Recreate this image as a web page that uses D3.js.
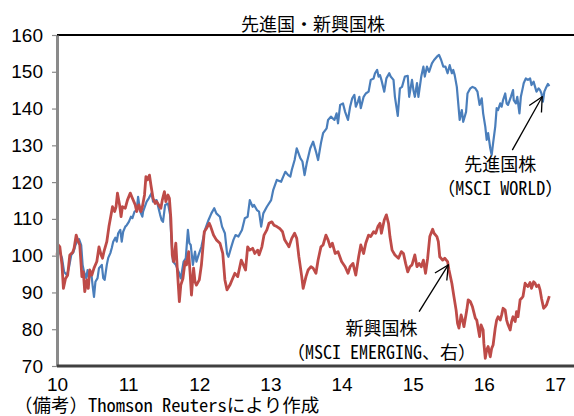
<!DOCTYPE html>
<html><head><meta charset="utf-8">
<script src="https://cdn.jsdelivr.net/npm/d3@7"></script>
<style>body{margin:0;background:#fff;} svg{display:block;}</style>
</head><body>
<svg id="chart" width="574" height="416"></svg>
<script>
const titleText = "先進国・新興国株";
const footText = "（備考）Thomson Reutersにより作成";
const yTicks = [70, 80, 90, 100, 110, 120, 130, 140, 150, 160];
const xTicks = [10, 11, 12, 13, 14, 15, 16, 17];
const xTickLabels = ["10", "11", "12", "13", "14", "15", "16", "17"];

// 先進国株 (MSCI WORLD) — time in years ('10 = 2010)
const worldT = [10.00,10.03,10.07,10.10,10.14,10.17,10.20,10.23,10.26,10.29,10.31,10.34,10.36,10.38,10.41,10.43,10.45,10.48,10.50,10.52,10.54,10.57,10.59,10.63,10.65,10.67,10.70,10.72,10.75,10.77,10.79,10.82,10.84,10.86,10.89,10.91,10.93,10.96,10.98,
11.01,11.04,11.06,11.09,11.12,11.14,11.17,11.20,11.21,11.26,11.29,11.33,11.35,11.40,11.45,11.47,11.49,11.52,11.56,11.59,11.61,11.63,11.67,11.71,11.74,11.78,11.81,11.84,11.86,11.88,11.91,11.94,11.96,11.99,
12.03,12.08,12.13,12.17,12.21,12.24,12.29,12.32,12.36,12.39,12.41,12.45,12.48,12.51,12.55,12.60,12.64,12.68,12.71,12.75,12.77,12.81,12.84,12.87,12.90,12.95,
13.01,13.04,13.09,13.15,13.18,13.21,13.25,13.28,13.30,13.34,13.37,13.42,13.45,13.48,13.51,13.56,13.60,13.64,13.67,13.71,13.74,13.79,13.81,13.85,13.90,13.93,13.95,13.98,
14.02,14.05,14.09,14.12,14.15,14.18,14.20,14.23,14.25,14.27,14.31,14.34,14.38,14.41,14.45,14.47,14.50,14.52,14.54,14.56,14.60,14.63,14.67,14.69,14.73,14.75,14.79,14.82,14.85,14.89,14.93,14.95,14.99,
15.01,15.03,15.06,15.08,15.12,15.15,15.17,15.20,15.23,15.27,15.30,15.34,15.37,15.40,15.43,15.46,15.49,15.52,15.55,15.57,15.59,15.62,15.64,15.66,15.69,15.71,15.75,15.77,15.81,15.84,15.88,15.91,15.94,15.97,15.99,
16.02,16.04,16.06,16.09,16.11,16.13,16.16,16.18,16.20,16.23,16.25,16.27,16.30,16.32,16.34,16.38,16.41,16.42,16.45,16.47,16.50,16.52,16.55,16.56,16.59,16.62,16.65,16.67,16.70,16.72,16.74,16.77,16.79,16.81,16.83,16.85,16.87,16.90,16.92];
const worldV = [100.7,101.3,99.4,95.6,94.7,97.0,100.2,100.9,102.9,104.3,104.5,102.9,97.5,95.6,93.9,96.1,93.9,95.6,92.0,88.8,92.9,93.9,96.6,97.5,93.9,93.4,97.5,99.4,100.7,102.1,103.8,104.9,103.8,106.1,107.0,103.8,106.5,107.9,108.3,
109.2,110.6,110.2,112.0,112.4,116.0,112.0,110.6,112.0,114.7,115.6,117.0,114.7,115.1,111.1,109.7,109.2,113.8,114.2,111.1,103.8,98.4,97.5,95.6,93.8,98.4,99.3,107.0,103.4,102.9,97.5,101.1,98.4,100.2,
102.4,107.0,109.7,111.5,112.9,111.5,110.6,107.9,106.1,100.6,99.7,102.4,104.3,105.6,105.2,107.0,110.2,110.6,115.1,113.3,113.8,112.4,112.0,107.9,111.5,113.3,
115.1,117.9,120.6,120.1,121.5,122.8,121.9,121.5,123.3,126.0,129.2,126.5,125.6,121.9,125.1,129.2,131.0,128.3,126.0,130.6,133.3,134.6,136.9,137.8,136.9,138.7,136.0,141.0,
141.4,139.1,136.9,140.5,142.8,143.7,140.5,141.9,143.2,140.1,143.2,144.1,144.6,147.8,148.2,149.6,150.5,148.7,149.1,147.8,144.6,148.2,149.6,148.7,147.8,143.2,138.0,145.5,145.9,148.7,148.9,143.2,147.8,
145.0,143.2,146.9,143.2,148.7,151.4,148.7,151.4,150.0,152.3,153.2,154.1,154.6,153.2,151.4,151.4,149.6,151.8,149.6,150.5,149.1,145.9,141.4,136.9,139.6,136.4,139.1,144.1,145.5,145.9,145.5,144.6,141.0,142.8,138.7,
135.1,131.5,133.3,129.2,127.4,130.6,135.1,140.1,139.6,141.4,140.5,142.3,144.1,141.4,141.0,143.2,145.0,142.3,141.4,143.2,138.7,143.2,145.9,146.9,148.2,147.8,148.2,146.4,147.3,145.9,144.6,145.5,145.0,144.1,141.9,144.6,145.5,146.7,146.1];

// 新興国株 (MSCI EMERGING)
const emergT = [10.00,10.02,10.04,10.07,10.09,10.12,10.15,10.18,10.22,10.24,10.27,10.29,10.32,10.35,10.37,10.39,10.42,10.44,10.46,10.49,10.52,10.56,10.59,10.62,10.64,10.66,10.70,10.73,10.76,10.78,10.81,10.83,10.85,10.88,10.90,10.92,10.96,10.99,
11.03,11.06,11.10,11.12,11.15,11.18,11.20,11.23,11.25,11.27,11.30,11.32,11.35,11.38,11.40,11.43,11.46,11.48,11.51,11.53,11.56,11.58,11.60,11.62,11.64,11.67,11.69,11.72,11.74,11.77,11.80,11.82,11.85,11.87,11.89,11.92,11.94,11.96,
12.00,12.03,12.07,12.10,12.14,12.16,12.20,12.24,12.29,12.33,12.36,12.39,12.43,12.46,12.50,12.54,12.59,12.62,12.65,12.68,12.71,12.75,12.78,12.82,12.84,12.88,12.91,12.95,12.98,
13.02,13.05,13.09,13.13,13.17,13.20,13.23,13.26,13.30,13.34,13.37,13.40,13.44,13.46,13.50,13.53,13.57,13.60,13.64,13.67,13.71,13.74,13.78,13.81,13.84,13.87,13.91,13.95,
14.00,14.05,14.09,14.12,14.16,14.20,14.24,14.27,14.31,14.34,14.38,14.41,14.45,14.48,14.51,14.54,14.56,14.60,14.63,14.66,14.68,14.71,14.75,14.80,14.84,14.87,14.90,14.93,14.96,14.99,
15.03,15.06,15.09,15.12,15.15,15.18,15.21,15.24,15.28,15.30,15.34,15.36,15.38,15.42,15.45,15.49,15.51,15.55,15.58,15.61,15.63,15.65,15.68,15.70,15.72,15.76,15.78,15.81,15.84,15.88,15.90,15.94,15.96,15.99,
16.00,16.02,16.04,16.06,16.09,16.11,16.13,16.16,16.18,16.20,16.23,16.25,16.27,16.30,16.32,16.34,16.37,16.39,16.41,16.44,16.46,16.48,16.51,16.53,16.55,16.58,16.60,16.62,16.65,16.67,16.70,16.72,16.74,16.77,16.79,16.81,16.84,16.86,16.88,16.91,16.92];
const emergV = [100.2,102.9,102.4,97.5,91.1,93.8,94.7,100.2,100.9,102.0,105.6,104.3,102.9,94.3,95.6,90.2,93.4,91.1,96.1,94.7,96.6,98.4,102.4,100.2,99.3,101.1,103.8,107.9,111.1,113.3,112.0,113.3,117.0,113.8,110.6,113.3,112.9,115.1,
117.0,115.6,113.8,112.0,113.8,112.0,113.3,116.5,121.5,120.6,121.9,119.2,115.6,114.2,114.7,113.8,112.9,115.1,117.4,114.7,116.5,115.6,110.2,100.2,98.4,103.4,96.6,87.5,92.0,93.8,98.4,97.5,101.1,95.6,89.3,96.6,92.9,92.0,
93.4,97.5,106.5,107.4,108.8,107.9,105.6,104.3,103.4,100.6,93.4,90.7,92.0,93.4,95.2,94.3,98.8,97.5,96.1,102.4,101.5,102.0,100.6,101.5,100.2,102.4,105.6,107.0,108.8,
109.2,108.3,107.9,107.4,106.5,104.3,103.4,102.4,104.7,106.1,104.7,99.7,94.3,91.1,94.3,96.1,97.0,96.6,95.2,98.8,102.4,102.9,105.6,104.3,102.4,103.4,100.6,101.1,
98.4,97.0,95.2,97.0,97.9,94.7,99.7,102.9,100.6,103.4,105.6,105.2,106.5,106.1,107.9,108.8,106.1,109.7,111.1,108.8,105.2,101.5,100.2,99.3,101.1,100.6,97.9,95.6,97.0,97.5,
100.2,97.0,97.9,97.0,98.8,95.2,99.3,105.2,107.2,106.1,105.2,103.8,99.7,98.8,99.3,98.4,96.1,92.5,88.8,85.2,81.6,80.3,83.9,82.5,80.7,85.2,88.0,87.5,86.1,83.0,82.5,78.0,81.2,79.8,
76.2,72.1,74.4,75.3,72.5,74.8,75.7,80.3,82.5,83.4,82.5,83.9,85.7,85.2,82.5,81.2,79.8,82.1,83.4,82.1,84.8,83.4,88.0,88.4,88.9,92.5,92.0,91.6,92.7,91.1,92.9,92.5,91.6,92.0,90.7,88.4,85.7,86.1,86.6,88.4,89.0];

// annotation anchors (data coordinates)
const worldArrow = {from: [16.40, 128.7], to: [16.82, 143.2]};
const emergArrow = {from: [15.09, 84.8], to: [15.50, 97.5]};
const worldLabel = {at: [16.23, 123.0], lines: ["先進国株", "（MSCI WORLD）"]};
const emergLabel = {at: [14.56, 78.4], lines: ["新興国株", "（MSCI EMERGING、右）"]};

const W = 574, H = 416;
const jp = '"Noto Sans Mono CJK JP","Noto Sans CJK JP",sans-serif';
const num = '"Liberation Sans",Arial,sans-serif';

const svg = d3.select("#chart");
const x = d3.scaleLinear().domain([10, 17]).range([57, 555]);
const y = d3.scaleLinear().domain([70, 160]).range([366, 35]);

// frame: top line
svg.append("line").attr("x1", 57).attr("x2", W).attr("y1", y(160)).attr("y2", y(160))
  .attr("stroke", "#000").attr("stroke-width", 2);

// series
const line = d3.line().x(d => x(d[0])).y(d => y(d[1]));
const world = worldT.map((t, i) => [t, worldV[i]]);
const emerg = emergT.map((t, i) => [t, emergV[i]]);
svg.append("path").datum(world).attr("d", line).attr("fill", "none")
  .attr("stroke", "#4a7ebb").attr("stroke-width", 2.2).attr("stroke-linejoin", "round");
svg.append("path").datum(emerg).attr("d", line).attr("fill", "none")
  .attr("stroke", "#be4b48").attr("stroke-width", 2.8).attr("stroke-linejoin", "round");

// y axis
const yAxis = svg.append("g").attr("transform", `translate(${x(10)},0)`)
  .call(d3.axisLeft(y).tickValues(yTicks).tickSize(5).tickPadding(9).tickSizeOuter(0));
yAxis.select(".domain").attr("stroke", "#8a8a8a").attr("stroke-width", 3);
yAxis.selectAll(".tick line").attr("stroke", "#8a8a8a").attr("stroke-width", 1.2);
yAxis.selectAll(".tick text").attr("font-family", num).attr("font-size", 19).attr("fill", "#000");

// x axis (bottom)
const xAxis = svg.append("g").attr("transform", `translate(0,${y(70)})`)
  .call(d3.axisBottom(x).tickValues(xTicks).tickSize(0).tickPadding(12)
    .tickFormat((d, i) => xTickLabels[i]));
xAxis.select(".domain").remove();
xAxis.selectAll(".tick text").attr("font-family", num).attr("font-size", 19).attr("fill", "#000");
svg.append("line").attr("x1", 57).attr("x2", W).attr("y1", y(70)).attr("y2", y(70))
  .attr("stroke", "#404040").attr("stroke-width", 3);

// title
svg.append("text").attr("x", 313).attr("y", 31).attr("text-anchor", "middle")
  .attr("font-family", jp).attr("font-size", 18).text(titleText);

// arrows
const defs = svg.append("defs");
defs.append("marker").attr("id", "arr").attr("markerUnits", "userSpaceOnUse")
  .attr("viewBox", "0 0 16 16").attr("markerWidth", 16).attr("markerHeight", 16)
  .attr("refX", 15).attr("refY", 8).attr("orient", "auto")
  .append("path").attr("d", "M1,1 L15,8 L1,15").attr("fill", "none")
  .attr("stroke", "#000").attr("stroke-width", 1.3);
[worldArrow, emergArrow].forEach(a => {
  svg.append("line").attr("x1", x(a.from[0])).attr("y1", y(a.from[1]))
    .attr("x2", x(a.to[0])).attr("y2", y(a.to[1]))
    .attr("stroke", "#000").attr("stroke-width", 1.3).attr("marker-end", "url(#arr)");
});

// labels
[worldLabel, emergLabel].forEach(l => {
  l.lines.forEach((s, i) => {
    svg.append("text").attr("x", x(l.at[0])).attr("y", y(l.at[1]) + i * 23.5)
      .attr("text-anchor", "middle").attr("font-family", jp).attr("font-size", 18).text(s);
  });
});

// footnote
svg.append("text").attr("x", 14).attr("y", 412).attr("font-family", jp)
  .attr("font-size", 18.5).text(footText);
</script>
</body></html>
